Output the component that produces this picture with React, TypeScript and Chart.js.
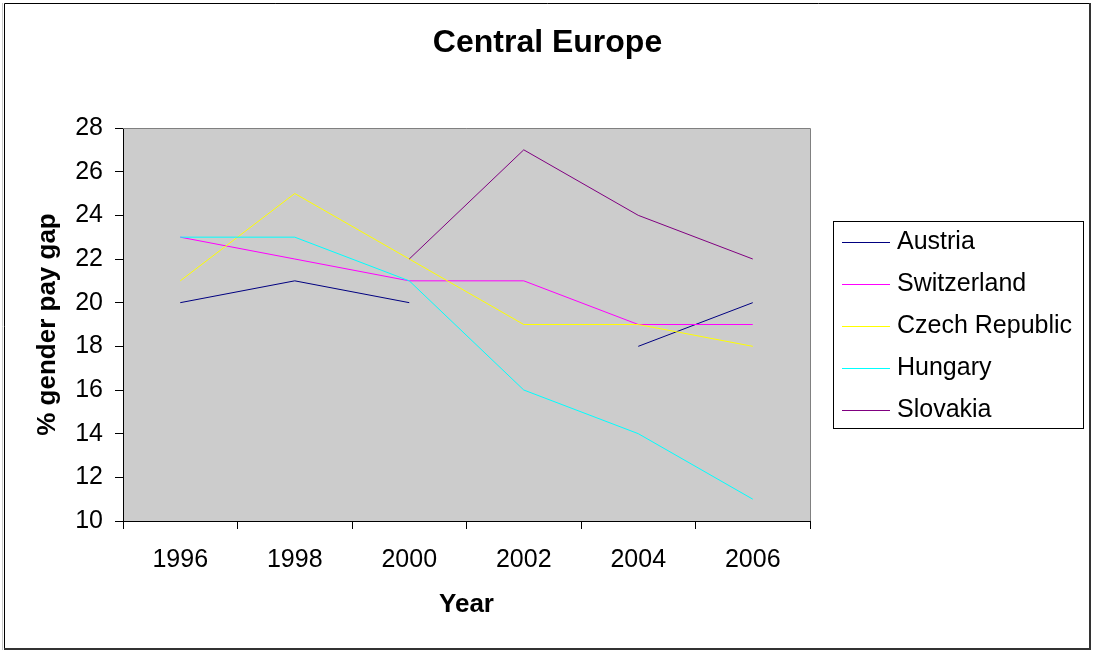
import React, { useEffect, useRef } from "react";
import { Chart, registerables } from "chart.js";

Chart.register(...registerables);

const years = ["1996", "1998", "2000", "2002", "2004", "2006"];

const austria = [20, 21, 20, null, 18, 20];
const switzerland = [23, 22, 21, 21, 19, 19];
const czechRepublic = [21, 25, 22, 19, 19, 18];
const hungary = [23, 23, 21, 16, 14, 11];
const slovakia = [null, null, 22, 27, 24, 22];

const seriesNames = ["Austria", "Switzerland", "Czech Republic", "Hungary", "Slovakia"];
const seriesValues = [austria, switzerland, czechRepublic, hungary, slovakia];
const seriesColors = ["#000080", "#FF00FF", "#FFFF00", "#00FFFF", "#800080"];

const FONT = "'Liberation Sans', Arial, Helvetica, sans-serif";

// Grey plot background, white page and the plot area's grey frame
const plotBackground = {
  id: "plotBackground",
  beforeDraw(chart: any) {
    const { ctx, chartArea, width, height } = chart;
    ctx.save();
    ctx.fillStyle = "#ffffff";
    ctx.fillRect(0, 0, width, height);
    ctx.fillStyle = "#cccccc";
    ctx.fillRect(chartArea.left, chartArea.top, chartArea.right - chartArea.left, chartArea.bottom - chartArea.top);
    ctx.restore();
  },
  afterDatasetsDraw(chart: any) {
    const { ctx, chartArea } = chart;
    ctx.save();
    ctx.strokeStyle = "#808080";
    ctx.lineWidth = 1;
    ctx.beginPath();
    ctx.moveTo(chartArea.left, Math.round(chartArea.top) + 0.5);
    ctx.lineTo(Math.round(chartArea.right) + 0.5, Math.round(chartArea.top) + 0.5);
    ctx.lineTo(Math.round(chartArea.right) + 0.5, chartArea.bottom);
    ctx.stroke();
    ctx.restore();
  },
};

// Boxed legend on the right and the outer frame of the chart
const boxedLegend = {
  id: "boxedLegend",
  afterDraw(chart: any) {
    const { ctx } = chart;
    ctx.save();
    // outer frame
    ctx.strokeStyle = "#c8c8c8";
    ctx.lineWidth = 1;
    ctx.beginPath();
    ctx.moveTo(2.5, 3);
    ctx.lineTo(2.5, 650);
    ctx.stroke();
    ctx.strokeStyle = "#000000";
    ctx.beginPath();
    ctx.moveTo(4.5, 649);
    ctx.lineTo(4.5, 3.5);
    ctx.lineTo(1090, 3.5);
    ctx.stroke();
    ctx.strokeStyle = "#333333";
    ctx.lineWidth = 2;
    ctx.beginPath();
    ctx.moveTo(1090, 3);
    ctx.lineTo(1090, 649);
    ctx.lineTo(4, 649);
    ctx.stroke();

    // legend box
    ctx.lineWidth = 1;
    ctx.strokeStyle = "#000000";
    ctx.strokeRect(833.5, 221.5, 250, 207);
    ctx.font = `25px ${FONT}`;
    ctx.textBaseline = "middle";
    ctx.textAlign = "left";
    chart.data.datasets.forEach((ds: any, i: number) => {
      const y = 242 + i * 42;
      ctx.strokeStyle = ds.borderColor;
      ctx.beginPath();
      ctx.moveTo(842, y + 0.5);
      ctx.lineTo(890, y + 0.5);
      ctx.stroke();
      ctx.fillStyle = "#000000";
      ctx.fillText(ds.label, 897, y);
    });
    ctx.restore();
  },
};

export default function App() {
  const canvasRef = useRef<HTMLCanvasElement | null>(null);

  useEffect(() => {
    if (!canvasRef.current) return;
    const chart = new Chart(canvasRef.current, {
      type: "line",
      data: {
        labels: years,
        datasets: seriesNames.map((name, i) => ({
          label: name,
          data: seriesValues[i],
          borderColor: seriesColors[i],
          backgroundColor: seriesColors[i],
          borderWidth: 1,
          pointRadius: 0,
          pointHoverRadius: 0,
          tension: 0,
          spanGaps: false,
          order: seriesNames.length - i,
        })),
      },
      options: {
        responsive: false,
        animation: false,
        layout: { padding: 0 },
        plugins: {
          legend: { display: false },
          tooltip: { enabled: false },
          title: {
            display: true,
            text: "Central Europe",
            color: "#000000",
            font: { family: FONT, size: 32, weight: "bold" },
            padding: { top: 24, bottom: 65.6 },
          },
        },
        scales: {
          x: {
            type: "category",
            offset: true,
            grid: {
              offset: true,
              drawOnChartArea: false,
              drawTicks: true,
              tickLength: 8,
              color: "#000000",
            },
            border: { display: true, color: "#000000", width: 1 },
            ticks: {
              color: "#000000",
              font: { family: FONT, size: 25 },
              padding: 16,
              maxRotation: 0,
            },
            title: {
              display: true,
              text: "Year",
              color: "#000000",
              font: { family: FONT, size: 26, weight: "bold" },
              padding: { top: 0, bottom: 33 },
            },
            afterFit(scale: any) {
              scale.height = 132;
            },
          },
          y: {
            min: 10,
            max: 28,
            grid: {
              drawOnChartArea: false,
              drawTicks: true,
              tickLength: 8,
              color: "#000000",
            },
            border: { display: true, color: "#000000", width: 1 },
            ticks: {
              stepSize: 2,
              color: "#000000",
              font: { family: FONT, size: 25 },
              padding: 12,
            },
            title: {
              display: true,
              text: "% gender pay gap",
              color: "#000000",
              font: { family: FONT, size: 26, weight: "bold" },
              padding: { top: 32, bottom: 0 },
            },
            afterFit(scale: any) {
              scale.width = 123;
            },
          },
          // empty band on the right that holds the legend
          legendSpace: {
            type: "linear",
            axis: "y",
            position: "right",
            display: true,
            grid: { display: false, drawTicks: false },
            border: { display: false },
            ticks: { display: false },
            title: { display: false },
            afterFit(scale: any) {
              scale.width = 285;
            },
          },
        },
      },
      plugins: [plotBackground, boxedLegend],
    });
    return () => chart.destroy();
  }, []);

  return (
    <div style={{ position: "fixed", left: 0, top: 0, width: 1095, height: 653, background: "#ffffff" }}>
      <canvas ref={canvasRef} width={1095} height={653} style={{ display: "block" }} />
    </div>
  );
}
